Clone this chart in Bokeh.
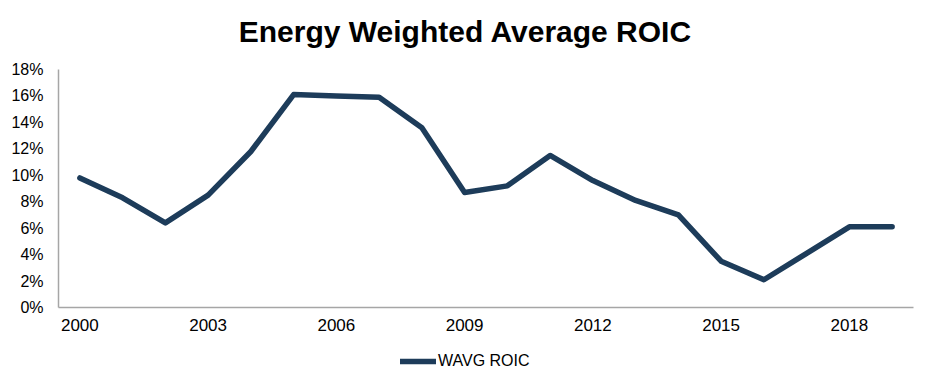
from bokeh.plotting import figure
from bokeh.layouts import column
from bokeh.models import Range1d, FixedTicker, Legend, LegendItem, CustomJSTickFormatter, Label
from bokeh.embed import file_html
from bokeh.resources import INLINE

years = list(range(2000, 2020))
roic = [9.8, 8.3, 6.4, 8.5, 11.8, 16.1, 16.0, 15.9, 13.6, 8.7,
        9.2, 11.5, 9.6, 8.1, 7.0, 3.5, 2.1, 4.1, 6.1, 6.1]
x_ticks = [2000, 2003, 2006, 2009, 2012, 2015, 2018]
y_ticks = [0, 2, 4, 6, 8, 10, 12, 14, 16, 18]
series_name = "WAVG ROIC"
title_text = "Energy Weighted Average ROIC"

FONT = "Liberation Sans"
LINE_COLOR = "#1d3c5a"
LINE_W = 5.5


def blank(height):
    f = figure(width=914, height=height, output_backend="svg", toolbar_location=None,
               x_range=Range1d(0, 1), y_range=Range1d(0, 1),
               x_axis_type=None, y_axis_type=None,
               min_border_left=0, min_border_right=0, min_border_top=0, min_border_bottom=0)
    f.outline_line_color = None
    f.grid.visible = False
    return f


# title strip (its frame is aligned with the chart frame by the column layout)
tf = blank(59)
tf.add_layout(Label(x=407, y=28, x_units="screen", y_units="screen", text=title_text,
                    text_align="center", text_baseline="alphabetic",
                    text_font=FONT, text_font_size="30px", text_font_style="bold",
                    text_color="black"))

# main chart
p = figure(frame_width=855, frame_height=238, output_backend="svg", toolbar_location=None,
           x_range=Range1d(1999.5, 2019.5), y_range=Range1d(0, 18),
           min_border_left=58, min_border_right=1, min_border_top=10, min_border_bottom=0)
p.outline_line_color = None
p.grid.visible = False

p.line(years, roic, line_color=LINE_COLOR, line_width=LINE_W, line_join="round", line_cap="round")

p.xaxis.ticker = FixedTicker(ticks=x_ticks)
p.yaxis.ticker = FixedTicker(ticks=y_ticks)
p.yaxis.formatter = CustomJSTickFormatter(code="return tick + '%';")
for ax in (p.xaxis, p.yaxis):
    ax.axis_line_color = "#a6a6a6"
    ax.axis_line_width = 1.5
    ax.major_tick_line_color = None
    ax.minor_tick_line_color = None
    ax.major_tick_out = 0
    ax.major_tick_in = 0
    ax.major_label_text_font = FONT
    ax.major_label_text_color = "black"
p.yaxis.major_label_text_font_size = "16px"
p.xaxis.major_label_text_font_size = "17px"
p.yaxis.major_label_standoff = 15
p.xaxis.major_label_standoff = 11

# legend strip below the chart (key line sits outside the visible range)
lg = blank(46)
key = lg.line([-5, -4], [-5, -5], line_color=LINE_COLOR, line_width=LINE_W, line_cap="round")
legend = Legend(items=[LegendItem(label=series_name, renderers=[key])],
                location=(342, 9), orientation="horizontal",
                border_line_color=None, background_fill_alpha=0,
                label_text_font=FONT, label_text_font_size="16px", label_text_color="black",
                glyph_width=36, glyph_height=16, label_standoff=2, padding=4, margin=0)
lg.add_layout(legend)

layout = column(tf, p, lg, spacing=0)
open("out.html", "w").write(file_html(layout, INLINE))
